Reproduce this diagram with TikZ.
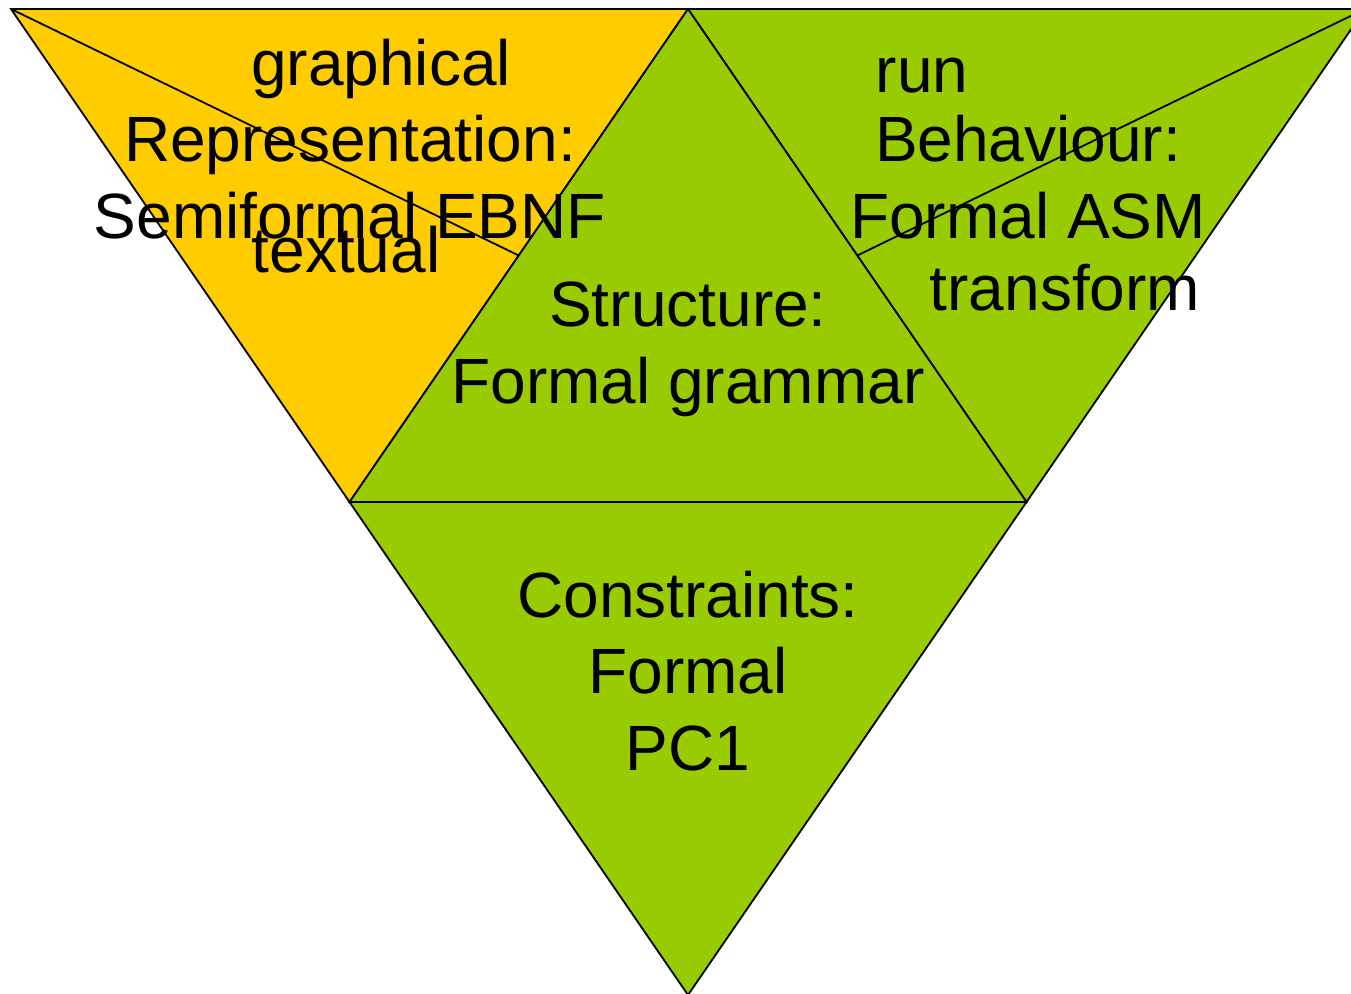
\documentclass[tikz,border=0pt]{standalone}
\usepackage{fontspec}
\setmainfont{Liberation Sans}
\usetikzlibrary{calc}
\definecolor{pptyellow}{HTML}{FFCC00}
\definecolor{pptgreen}{HTML}{99CC00}

\begin{document}
\begin{tikzpicture}[x=1pt,y=-1pt,line width=1.8pt,
  part/.style={draw=black,line join=miter},
  lbl/.style={anchor=base,align=center,inner sep=0pt,
    font=\fontsize{64}{76.5}\selectfont}]
\useasboundingbox (0,0) rectangle (1351,993);
\clip (0,0) rectangle (1351,993);
% \draw[step=50,gray,very thin] (0,0) grid (1351,993);
\coordinate (tl) at (11,9);
\coordinate (tr) at (1365,9);
\coordinate (bot) at (688,995);
\coordinate (top) at ($(tl)!0.5!(tr)$);
\coordinate (ml) at ($(tl)!0.5!(bot)$);
\coordinate (mr) at ($(tr)!0.5!(bot)$);

%% the four parts
\filldraw[part,fill=pptyellow] (tl) -- (top) -- (ml) -- cycle;
\filldraw[part,fill=pptgreen] (top) -- (tr) -- (mr) -- cycle;
\filldraw[part,fill=pptgreen] (top) -- (mr) -- (ml) -- cycle;
\filldraw[part,fill=pptgreen] (ml) -- (mr) -- (bot) -- cycle;

%% the two splits
\draw (tl) -- ($(top)!0.5!(ml)$);
\draw (tr) -- ($(top)!0.5!(mr)$);

%% labels (base = baseline of the last line)
\node[lbl] (graph) at (381,85) {graphical};
\node[lbl] (repr) at (350,238) {Representation:\\Semiformal EBNF};
\node[lbl] (textual) at (346,272) {textual};
\node[lbl] (run) at (922,92) {run};
\node[lbl] (behav) at (1028,238) {Behaviour:\\Formal ASM};
\node[lbl] (trans) at (1065,310) {transform};
\node[lbl] (struct) at (688,403) {Structure:\\Formal grammar};
\node[lbl] (constr) at (688,770) {Constraints:\\Formal\\PC1};
\end{tikzpicture}
\end{document}
